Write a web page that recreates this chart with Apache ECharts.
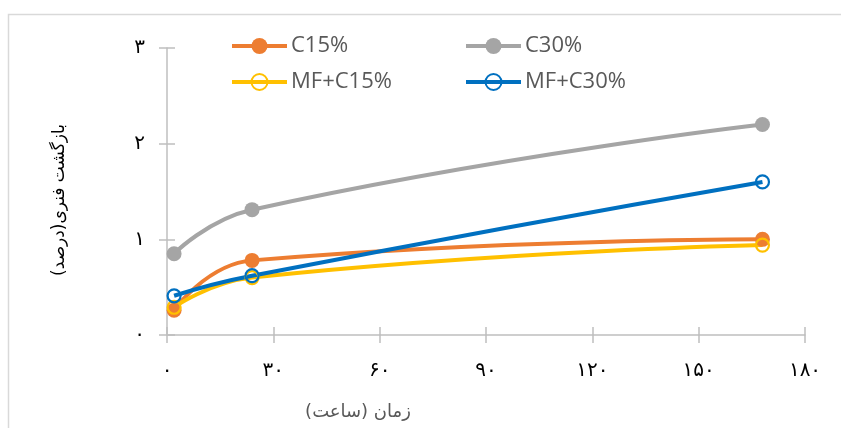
<!DOCTYPE html>
<html>
<head>
<meta charset="utf-8">
<script src="https://cdn.jsdelivr.net/npm/echarts@6/dist/echarts.min.js"></script>
<style>html,body{margin:0;padding:0;background:#fff}#c{width:841px;height:428px}</style>
</head>
<body>
<div id="c"></div>
<script>
var xHours = [2, 24, 168];
var c15 = [0.26, 0.78, 1.00];
var c30 = [0.85, 1.31, 2.20];
var mfc15 = [0.29, 0.60, 0.94];
var mfc30 = [0.41, 0.62, 1.60];
var seriesNames = ['C15%', 'C30%', 'MF+C15%', 'MF+C30%'];
var xTickLabels = ['۰', '۳۰', '۶۰', '۹۰', '۱۲۰', '۱۵۰', '۱۸۰'];
var yTickLabels = ['۰', '۱', '۲', '۳'];
var xTitle = 'زمان (ساعت)';
var yTitle = 'بازگشت فنری(درصد)';

function pairs(ys) { return xHours.map(function (x, i) { return [x, ys[i]]; }); }

var chart = echarts.init(document.getElementById('c'));
var axisColor = '#bfbfbf';
var lineW = 4;
function mkSeries(name, data, color, hollow) {
  return {
    name: name, type: 'line', data: pairs(data), smooth: 0.5,
    xAxisIndex: 0, yAxisIndex: 0,
    symbol: 'circle', symbolSize: hollow ? 13 : 15,
    lineStyle: { color: color, width: lineW },
    itemStyle: hollow ? { color: 'rgba(255,255,255,0)', borderColor: color, borderWidth: 2.2 } : { color: color, borderColor: color, borderWidth: 0 },
    emphasis: { disabled: true }, z: 3
  };
}
function mkLegend(name, left, top) {
  return {
    data: [name], left: left, top: top, padding: 0, itemWidth: 55, itemHeight: 20, itemGap: 0,
    lineStyle: { width: 4 },
    textStyle: { fontFamily: 'Open Sans', fontSize: 22, color: '#595959', padding: [0, 0, 0, -1] },
    selectedMode: false
  };
}
chart.setOption({
  animation: false,
  grid: { left: 167, top: 48, right: 36, bottom: 93 },
  legend: [
    mkLegend(seriesNames[0], 230, 35),
    mkLegend(seriesNames[1], 464, 35),
    mkLegend(seriesNames[2], 230, 71),
    mkLegend(seriesNames[3], 464, 71)
  ],
  xAxis: [{
    type: 'value', min: 0, max: 180, interval: 30,
    axisLine: { show: true, lineStyle: { color: axisColor, width: 1.5 } },
    axisTick: { show: true, length: 8, lineStyle: { color: axisColor, width: 1.5 } },
    splitLine: { show: false },
    axisLabel: { margin: 26, fontFamily: 'DejaVu Sans', fontSize: 20, color: '#000',
      formatter: function (v) { return xTickLabels[Math.round(v / 30)]; } }
  }, {
    type: 'value', min: 0, max: 180, interval: 30, position: 'bottom',
    axisLine: { show: false },
    axisTick: { show: true, inside: true, length: 8, lineStyle: { color: axisColor, width: 1.5 } },
    axisLabel: { show: false }, splitLine: { show: false }
  }],
  yAxis: [{
    type: 'value', min: 0, max: 3, interval: 1,
    axisLine: { show: true, lineStyle: { color: axisColor, width: 1.5 } },
    axisTick: { show: true, length: 8, lineStyle: { color: axisColor, width: 1.5 } },
    splitLine: { show: false },
    axisLabel: { margin: 22, fontFamily: 'DejaVu Sans', fontSize: 20, color: '#000',
      formatter: function (v) { return yTickLabels[Math.round(v)]; } }
  }, {
    type: 'value', min: 0, max: 3, interval: 1, position: 'left',
    axisLine: { show: false },
    axisTick: { show: true, inside: true, length: 8, lineStyle: { color: axisColor, width: 1.5 } },
    axisLabel: { show: false }, splitLine: { show: false }
  }],
  graphic: [
    { type: 'rect', shape: { x: 8.5, y: 14.5, width: 900, height: 500 }, style: { fill: 'none', stroke: '#d9d9d9', lineWidth: 1.5 }, silent: true },
    { type: 'text', x: 358, y: 412, style: { text: xTitle, x: 0, y: 0, align: 'center', verticalAlign: 'middle', fontFamily: 'DejaVu Sans', fontSize: 18, fill: '#595959' } },
    { type: 'text', x: 60, y: 200, rotation: Math.PI / 2, style: { text: yTitle, x: 0, y: 0, align: 'center', verticalAlign: 'middle', fontFamily: 'DejaVu Sans', fontSize: 17, fill: '#000' } }
  ],
  series: [
    mkSeries(seriesNames[0], c15, '#ED7D31', false),
    mkSeries(seriesNames[1], c30, '#A5A5A5', false),
    mkSeries(seriesNames[2], mfc15, '#FFC000', true),
    mkSeries(seriesNames[3], mfc30, '#0070C0', true)
  ]
});
</script>
</body>
</html>
